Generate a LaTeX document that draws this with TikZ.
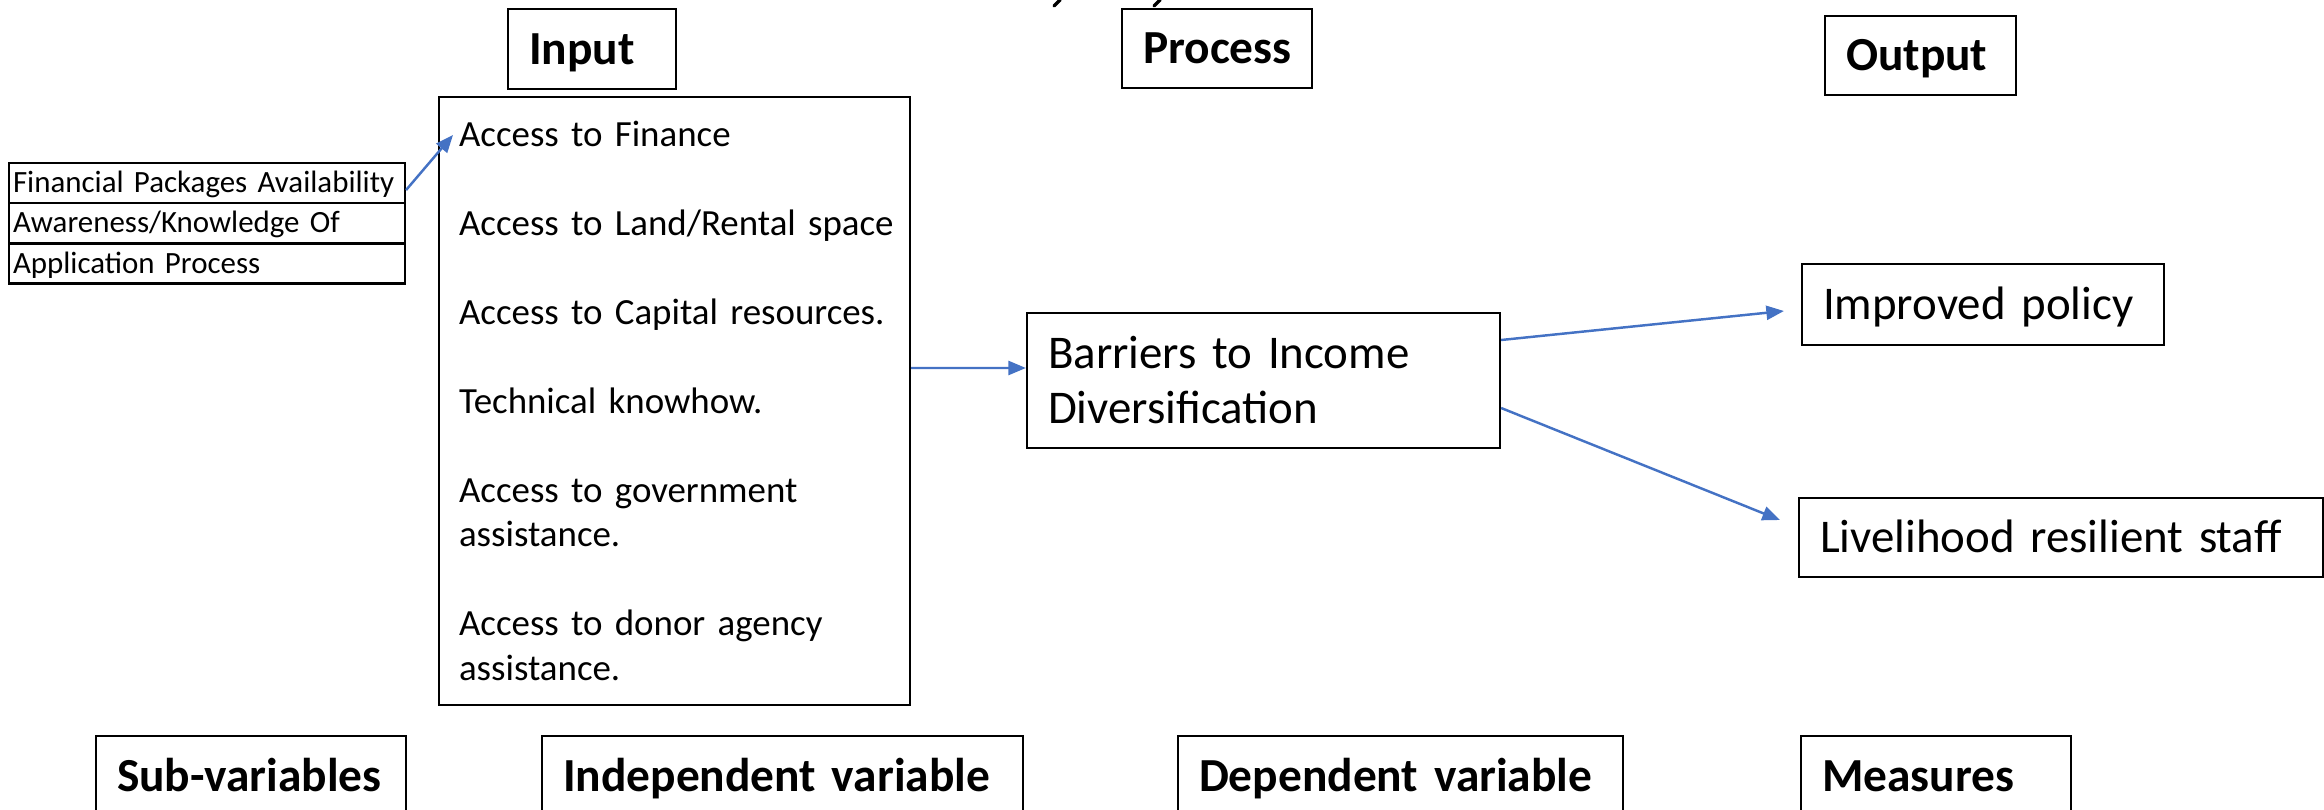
\documentclass[tikz,border=0pt]{standalone}
\usepackage{fontspec}
\setmainfont{Carlito}
\usepackage{tikz}
\usetikzlibrary{arrows.meta}
\definecolor{arrblue}{HTML}{4472C4}

\begin{document}
\begin{tikzpicture}[x=0.02cm, y=-0.02cm,
    box/.style={draw, line width=1.3pt, inner xsep=0.42cm, inner ysep=0pt, align=left},
    head/.style={box, font=\bfseries\fontsize{27}{32}\selectfont, text height=17.4pt, text depth=0pt},
    outbox/.style={box, font=\fontsize{26.7}{32}\selectfont, text height=17.2pt, text depth=0pt},
    cell/.style={box, inner xsep=0.08cm, text width=7.76cm, minimum height=0.8cm,
        font=\fontsize{17.6}{21}\selectfont, text height=11.3pt, text depth=0pt},
    arr/.style={draw=arrblue, line width=1.4pt, -{Triangle[length=10pt, width=8pt]}}]
    \useasboundingbox (0,0) rectangle (2324,810);
    \clip (0,0) rectangle (2324,810);

    \draw[line width=2pt, line cap=round] (1060,0) -- (1054,6);
    \draw[line width=2pt, line cap=round] (1160,0) -- (1154,6);

    \node[head, text width=2.52cm, minimum height=1.6cm] (inp) at (592,49) {Input};
    \node[head, text width=2.96cm, minimum height=1.58cm] (proc) at (1217,48.5) {Process};
    \node[head, text width=2.98cm, minimum height=1.58cm] (outp) at (1920.5,55.5) {Output};

    \node[cell] (fa) at (207,183) {Financial Packages Availability};
    \node[cell] (aw) at (207,223) {Awareness/Knowledge Of};
    \node[cell] (ap) at (207,263.5) {Application Process};

    \node[box, font=\fontsize{21}{25.3}\selectfont, text width=8.62cm, inner xsep=0.4cm, minimum height=12.16cm] (items) at (674.5,401)
        {Access to Finance\\[25.3pt]
         \mbox{Access to Land/Rental space}\\[25.3pt]
         \mbox{Access to Capital resources.}\\[25.3pt]
         Technical knowhow.\\[25.3pt]
         Access to government\\assistance.\\[25.3pt]
         Access to donor agency\\assistance.};
    \coordinate (fin) at (453,135);

    \node[box, font=\fontsize{26.7}{31.3}\selectfont, text width=8.62cm, minimum height=2.7cm] (bar) at (1263.5,380.5)
        {Barriers to Income\\Diversification};

    \node[outbox, text width=6.4cm, minimum height=1.62cm] (pol) at (1983,304.5) {Improved policy};
    \node[outbox, text width=9.64cm, minimum height=1.58cm] (liv) at (2061,537.5) {Livelihood resilient staff};

    \node[head, text width=5.36cm, minimum height=1.6cm] (sub) at (251,776) {Sub-variables};
    \node[head, text width=8.78cm, minimum height=1.6cm] (ind) at (782.5,776) {Independent variable};
    \node[head, text width=8.06cm, minimum height=1.6cm] (dep) at (1400.5,776) {Dependent variable};
    \node[head, text width=4.56cm, minimum height=1.6cm] (meas) at (1936,776) {Measures};

    \draw[arr] ([yshift=-0.14cm]fa.east) -- (fin);
    \draw[arr] ([yshift=0.66cm]items.east) -- ([yshift=0.25cm]bar.west);
    \draw[arr] ([yshift=0.81cm]bar.east) -- ([xshift=-0.34cm, yshift=-0.13cm]pol.west);
    \draw[arr] ([yshift=-0.55cm]bar.east) -- ([xshift=-0.36cm, yshift=0.35cm]liv.west);
\end{tikzpicture}
\end{document}
